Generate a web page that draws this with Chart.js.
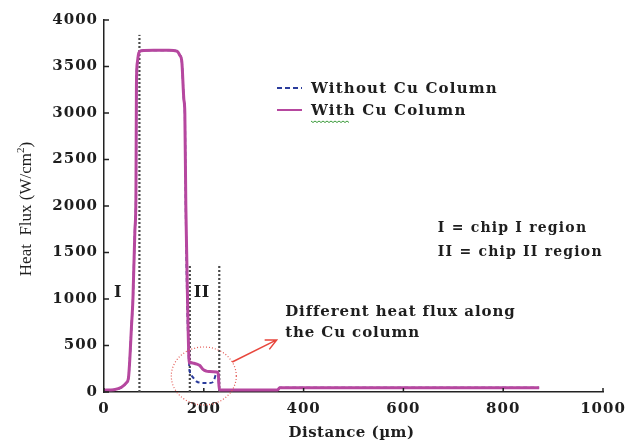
<!DOCTYPE html>
<html>
<head>
<meta charset="utf-8">
<script src="https://cdn.jsdelivr.net/npm/chart.js@4.4.1/dist/chart.umd.min.js"></script>
<style>
  html, body { margin: 0; padding: 0; background: #fff; }
  #wrap { width: 626px; height: 446px; position: relative; }
</style>
</head>
<body>
<div id="wrap"><canvas id="fluxChart"></canvas></div>
<script>
// Distance along the package (µm)
const distance = [0, 20, 35, 45, 49, 52, 55, 58, 62, 64, 65, 67, 70, 75, 100, 130, 146, 152, 156, 160, 162, 164, 167, 171,
                  172, 175, 180, 186, 192, 199, 205, 212, 219, 226, 229, 231, 240, 300, 348, 352, 500, 700, 872];
// Heat flux (W/cm2)
const withCu = [20, 25, 50, 100, 150, 380, 700, 1000, 1750, 2100, 3300, 3550, 3650, 3670, 3675, 3675, 3665, 3620, 3550, 3150, 3000, 2000, 1100, 310,
                320, 315, 310, 300, 285, 240, 225, 220, 218, 215, 195, 25, 22, 22, 22, 45, 45, 45, 45];
const withoutCu = [20, 25, 50, 100, 150, 380, 700, 1000, 1750, 2100, 3300, 3550, 3650, 3670, 3675, 3675, 3665, 3620, 3550, 3150, 3000, 1900, 900, 260,
                   218, 180, 147, 111, 100, 97, 97, 97, 111, 204, 190, 25, 22, 22, 22, 45, 45, 45, 45];

// chip region boundaries (dotted markers)
const regionX = [71, 172, 231];
const regionTop = [3840, 1370, 1370];

const xTicks = [0, 200, 400, 600, 800, 1000];
const yTicks = [0, 500, 1000, 1500, 2000, 2500, 3000, 3500, 4000];

const MAGENTA = '#b6479f';
const BLUE = '#2b3c9c';
const INK = '#1e1e1e';

function toPoints(xs, ys) {
    return xs.map((x, i) => ({ x: x, y: ys[i] }));
}

const regionSets = regionX.map((x, i) => ({
    label: 'region' + i,
    data: [{ x: x, y: 0 }, { x: x, y: regionTop[i] }],
    borderColor: '#4a4a4a',
    borderWidth: 2.2,
    borderDash: [2, 2],
    pointRadius: 0,
    tension: 0
}));

// text, circle, arrow and hand-drawn legend
const annotations = {
    id: 'annotations',
    beforeDraw(chart) {
        chart.ctx.letterSpacing = '1px';
    },
    afterDraw(chart) {
        const ctx = chart.ctx;
        const xs = chart.scales.x, ys = chart.scales.y;
        const px = v => xs.getPixelForValue(v);
        const py = v => ys.getPixelForValue(v);
        const area = chart.chartArea;

        ctx.save();
        // inward tick marks
        ctx.strokeStyle = '#222';
        ctx.lineWidth = 1.5;
        ctx.beginPath();
        xTicks.forEach(t => { ctx.moveTo(px(t), area.bottom); ctx.lineTo(px(t), area.bottom - 4); });
        yTicks.forEach(t => { ctx.moveTo(area.left, py(t)); ctx.lineTo(area.left + 5, py(t)); });
        ctx.stroke();

        ctx.fillStyle = INK;
        ctx.textBaseline = 'middle';
        ctx.textAlign = 'left';

        // legend
        ctx.lineWidth = 2;
        ctx.strokeStyle = BLUE;
        ctx.setLineDash([5, 3]);
        ctx.beginPath(); ctx.moveTo(277, 88); ctx.lineTo(302, 88); ctx.stroke();
        ctx.setLineDash([]);
        ctx.strokeStyle = MAGENTA;
        ctx.beginPath(); ctx.moveTo(277, 110); ctx.lineTo(302, 110); ctx.stroke();
        ctx.font = 'bold 15px "DejaVu Serif"';
        ctx.letterSpacing = '1.2px';
        ctx.fillText('Without Cu Column', 311, 89);
        ctx.fillText('With Cu Column', 311, 111);
        // wavy spell-check underline
        ctx.strokeStyle = '#3a9a3a';
        ctx.lineWidth = 1;
        ctx.beginPath();
        for (let x = 311; x <= 350; x += 2) {
            const y = 121 + ((x - 311) % 4 === 0 ? 0 : 1.5);
            if (x === 311) ctx.moveTo(x, y); else ctx.lineTo(x, y);
        }
        ctx.stroke();

        // region labels
        ctx.font = 'bold 14px "DejaVu Serif"';
        ctx.letterSpacing = '1.2px';
        ctx.fillText('I = chip I region', px(669), py(1763));
        ctx.fillText('II = chip II region', px(669), py(1505));
        ctx.font = 'bold 16px "DejaVu Serif"';
        ctx.letterSpacing = '0.5px';
        ctx.textAlign = 'center';
        ctx.fillText('I', px(28), py(1065));
        ctx.fillText('II', px(196), py(1065));

        // callout
        ctx.textAlign = 'left';
        ctx.font = 'bold 15px "DejaVu Serif"';
        ctx.letterSpacing = '0.9px';
        ctx.fillText('Different heat flux along', px(363), py(860));
        ctx.fillText('the Cu column', px(363), py(634));

        ctx.strokeStyle = '#e35a55';
        ctx.lineWidth = 1.2;
        ctx.setLineDash([1, 2]);
        ctx.beginPath();
        ctx.ellipse(px(200), py(172), 32.5, 29, 0, 0, Math.PI * 2);
        ctx.stroke();
        ctx.setLineDash([]);

        const ax0 = px(257), ay0 = py(323), ax1 = px(346), ay1 = py(560);
        const ang = Math.atan2(ay1 - ay0, ax1 - ax0);
        ctx.strokeStyle = '#e8463c';
        ctx.lineWidth = 1.5;
        ctx.beginPath();
        ctx.moveTo(ax0, ay0); ctx.lineTo(ax1, ay1);
        ctx.moveTo(ax1 - 12 * Math.cos(ang - 0.45), ay1 - 12 * Math.sin(ang - 0.45));
        ctx.lineTo(ax1, ay1);
        ctx.lineTo(ax1 - 12 * Math.cos(ang + 0.45), ay1 - 12 * Math.sin(ang + 0.45));
        ctx.stroke();

        // axis titles
        ctx.fillStyle = INK;
        ctx.font = 'bold 15px "DejaVu Serif"';
        ctx.letterSpacing = '0.5px';
        ctx.textAlign = 'center';
        ctx.fillText('Distance (\u00b5m)', (area.left + area.right) / 2 - 2, 433);

        ctx.translate(27, 209);
        ctx.rotate(-Math.PI / 2);
        ctx.letterSpacing = '0px';
        ctx.textAlign = 'left';
        const main = 'Heat  Flux (W/cm';
        ctx.font = '17px "Liberation Serif"';
        const w1 = ctx.measureText(main).width;
        ctx.font = '11px "Liberation Serif"';
        const w2 = ctx.measureText('2').width;
        ctx.font = '17px "Liberation Serif"';
        const w3 = ctx.measureText(')').width;
        let x0 = -(w1 + w2 + w3) / 2;
        ctx.fillText(main, x0, 0);
        ctx.font = '11px "Liberation Serif"';
        ctx.fillText('2', x0 + w1, -6);
        ctx.font = '17px "Liberation Serif"';
        ctx.fillText(')', x0 + w1 + w2, 0);
        ctx.restore();
    }
};

const tickFont = { family: 'DejaVu Serif', size: 15, weight: 'bold' };

const ctx = document.getElementById('fluxChart').getContext('2d');
new Chart(ctx, {
    type: 'line',
    data: {
        datasets: [
            {
                label: 'With Cu Column',
                data: toPoints(distance, withCu),
                borderColor: MAGENTA,
                borderWidth: 3,
                pointRadius: 0,
                cubicInterpolationMode: 'monotone'
            },
            {
                label: 'Without Cu Column',
                data: toPoints(distance, withoutCu),
                borderColor: BLUE,
                borderWidth: 2,
                borderDash: [4, 3],
                pointRadius: 0,
                cubicInterpolationMode: 'monotone'
            }
        ].concat(regionSets)
    },
    options: {
        responsive: true,
        maintainAspectRatio: false,
        animation: false,
        layout: { padding: { top: 20, right: 23, left: 0, bottom: 0 } },
        plugins: {
            legend: { display: false },
            tooltip: { enabled: false }
        },
        scales: {
            x: {
                type: 'linear',
                min: xTicks[0],
                max: xTicks[xTicks.length - 1],
                ticks: { stepSize: xTicks[1] - xTicks[0], color: INK, padding: 8, maxRotation: 0,
                         font: tickFont, callback: v => String(v) },
                grid: { display: true, drawOnChartArea: false, drawTicks: false },
                border: { color: '#222', width: 1.5 },
                afterFit(scale) {
                    scale.height = 54;
                    scale.paddingLeft = 0;
                    scale.paddingRight = 0;
                }
            },
            y: {
                min: yTicks[0],
                max: yTicks[yTicks.length - 1],
                ticks: { stepSize: yTicks[1] - yTicks[0], color: INK, padding: 6,
                         font: tickFont, callback: v => String(v) },
                grid: { display: true, drawOnChartArea: false, drawTicks: false },
                border: { color: '#222', width: 1.5 },
                afterFit(scale) {
                    scale.width = 104;
                    scale.paddingTop = 0;
                    scale.paddingBottom = 0;
                }
            }
        }
    },
    plugins: [annotations]
});
</script>
</body>
</html>
